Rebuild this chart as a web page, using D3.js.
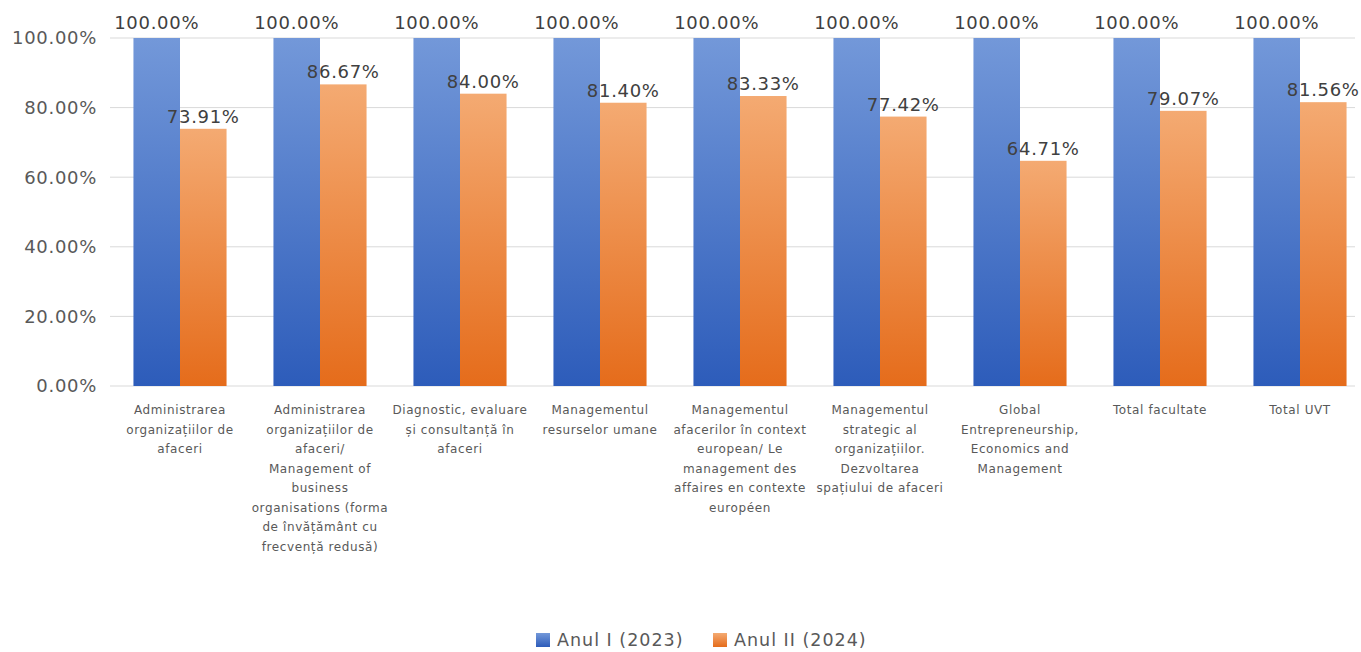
<!DOCTYPE html>
<html>
<head>
<meta charset="utf-8">
<script src="https://cdn.jsdelivr.net/npm/d3@7"></script>
<style>
  body { margin: 0; background: #fff; }
  svg text { font-family: "DejaVu Sans", sans-serif; }
</style>
</head>
<body>
<div class="chart"></div>
<script>
// categories, each split into display lines as in the original
var categories = [
  ["Administrarea", "organizațiilor de", "afaceri"],
  ["Administrarea", "organizațiilor de", "afaceri/", "Management of", "business", "organisations (forma", "de învățământ cu", "frecvență redusă)"],
  ["Diagnostic, evaluare", "și consultanță în", "afaceri"],
  ["Managementul", "resurselor umane"],
  ["Managementul", "afacerilor în context", "european/ Le", "management des", "affaires en contexte", "européen"],
  ["Managementul", "strategic al", "organizațiilor.", "Dezvoltarea", "spațiului de afaceri"],
  ["Global", "Entrepreneurship,", "Economics and", "Management"],
  ["Total facultate"],
  ["Total UVT"]
]
var seriesNames = ["Anul I (2023)", "Anul II (2024)"]
var anul1 = [100, 100, 100, 100, 100, 100, 100, 100, 100]
var anul2 = [73.91, 86.67, 84.00, 81.40, 83.33, 77.42, 64.71, 79.07, 81.56]
var yTicks = [0, 20, 40, 60, 80, 100]

var width = 1361,
    height = 652

var svg = d3.select(".chart")
  .append("svg")
  .attr("width", width)
  .attr("height", height)

var defs = svg.append("defs")
function grad(id, top, bottom) {
  var g = defs.append("linearGradient")
    .attr("id", id)
    .attr("x1", 0).attr("y1", 0).attr("x2", 0).attr("y2", 1)
  g.append("stop").attr("offset", "0%").attr("stop-color", top)
  g.append("stop").attr("offset", "100%").attr("stop-color", bottom)
}
grad("gBlue", "#7398d9", "#2d5cba")
grad("gOrange", "#f4aa72", "#e56c1b")

var x = d3.scaleBand()
  .domain(d3.range(categories.length))
  .range([110, 1370])
  .paddingInner(0.335)
  .paddingOuter(0.1675)

var xs = d3.scaleBand()
  .domain([0, 1])
  .range([0, x.bandwidth()])

var y = d3.scaleLinear()
  .domain([0, 100])
  .range([386, 38])

var fmt = function(v) { return v.toFixed(2) + "%" }

// gridlines
svg.append("g")
  .selectAll("line")
  .data(yTicks)
  .enter().append("line")
  .attr("x1", 110)
  .attr("x2", 1355)
  .attr("y1", function(d) { return y(d) })
  .attr("y2", function(d) { return y(d) })
  .attr("stroke", "#d9d9d9")
  .attr("stroke-width", 1)

// y axis labels
svg.append("g")
  .selectAll("text")
  .data(yTicks)
  .enter().append("text")
  .attr("x", 97)
  .attr("y", function(d) { return y(d) })
  .attr("dy", "0.35em")
  .attr("text-anchor", "end")
  .attr("font-size", 18)
  .attr("letter-spacing", 0.7)
  .attr("fill", "#595959")
  .text(fmt)

var series = [anul1, anul2]
var fills = ["url(#gBlue)", "url(#gOrange)"]

series.forEach(function(vals, s) {
  var g = svg.append("g")
  g.selectAll("rect")
    .data(vals)
    .enter().append("rect")
    .attr("x", function(d, i) { return x(i) + xs(s) })
    .attr("y", function(d) { return y(d) })
    .attr("width", xs.bandwidth())
    .attr("height", function(d) { return y(0) - y(d) })
    .attr("fill", fills[s])

  g.selectAll("text")
    .data(vals)
    .enter().append("text")
    .attr("x", function(d, i) { return x(i) + xs(s) + xs.bandwidth() / 2 })
    .attr("y", function(d) { return y(d) - (s ? 6 : 9) })
    .attr("text-anchor", "middle")
    .attr("font-size", 18)
    .attr("letter-spacing", 0.7)
    .attr("fill", "#404040")
    .text(fmt)
})

// category labels
var cat = svg.append("g")
  .selectAll("text")
  .data(categories)
  .enter().append("text")
  .attr("x", function(d, i) { return x(i) + x.bandwidth() / 2 })
  .attr("y", 414)
  .attr("text-anchor", "middle")
  .attr("font-size", 12)
  .attr("letter-spacing", 0.6)
  .attr("fill", "#595959")

cat.selectAll("tspan")
  .data(function(d) { return d })
  .enter().append("tspan")
  .attr("x", function() { return d3.select(this.parentNode).attr("x") })
  .attr("dy", function(d, i) { return i === 0 ? 0 : 19.5 })
  .text(function(d) { return d })

// legend
var legend = svg.append("g")
var legendX = [536, 713]
seriesNames.forEach(function(name, s) {
  legend.append("rect")
    .attr("x", legendX[s])
    .attr("y", 633)
    .attr("width", 14)
    .attr("height", 14)
    .attr("fill", fills[s])
  legend.append("text")
    .attr("x", legendX[s] + 21)
    .attr("y", 640)
    .attr("dy", "0.35em")
    .attr("font-size", 17.5)
    .attr("letter-spacing", 1)
    .attr("fill", "#595959")
    .text(name)
})
</script>
</body>
</html>
